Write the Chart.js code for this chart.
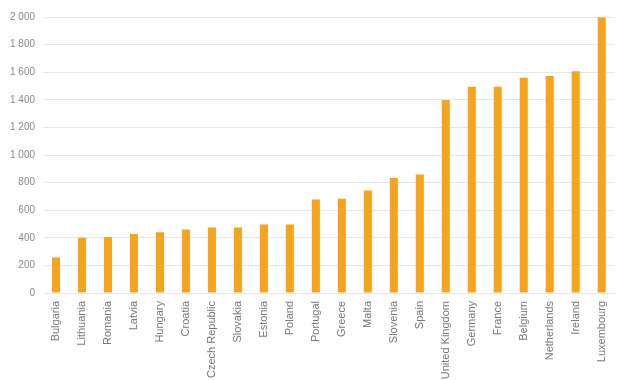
<!DOCTYPE html>
<html>
<head>
<meta charset="utf-8">
<script src="https://cdn.jsdelivr.net/npm/chart.js@4"></script>
<style>
  html, body { margin: 0; padding: 0; background: #fff; }
  #wrap { width: 623px; height: 380px; }
</style>
</head>
<body>
<div id="wrap"><canvas id="wageChart"></canvas></div>
<script>
const countries = [
    "Bulgaria", "Lithuania", "Romania", "Latvia", "Hungary", "Croatia",
    "Czech Republic", "Slovakia", "Estonia", "Poland", "Portugal", "Greece",
    "Malta", "Slovenia", "Spain", "United Kingdom", "Germany", "France",
    "Belgium", "Netherlands", "Ireland", "Luxembourg"
];
const values = [
    258, 400, 405, 427, 441, 460, 474, 474, 496, 496, 677, 683,
    742, 834, 858, 1398, 1494, 1494, 1559, 1573, 1607, 1996
];
const yTicks = [0, 200, 400, 600, 800, 1000, 1200, 1400, 1600, 1800, 2000];

// "2 000" style labels
const fmt = (v) => {
    const s = String(v);
    return s.length > 3 ? s.slice(0, -3) + " " + s.slice(-3) : s;
};

const ctx = document.getElementById("wageChart").getContext("2d");

new Chart(ctx, {
    type: "bar",
    data: {
        labels: countries,
        datasets: [{
            data: values,
            backgroundColor: "#f5a41f",
            borderWidth: 0,
            barPercentage: 0.62,
            categoryPercentage: 0.5,
        }],
    },
    options: {
        responsive: true,
        maintainAspectRatio: false,
        animation: false,
        layout: { padding: { top: 17, right: 5, left: 0, bottom: 0 } },
        plugins: {
            legend: { display: false },
            tooltip: { enabled: false },
        },
        scales: {
            x: {
                grid: { display: false, drawTicks: false },
                border: { display: true, color: "#e6e6e6", width: 1 },
                ticks: {
                    minRotation: 90,
                    maxRotation: 90,
                    autoSkip: false,
                    padding: 8,
                    color: "#777",
                    font: { family: "Liberation Sans", size: 11 },
                },
                afterFit: (s) => { s.height = 87; },
            },
            y: {
                min: 0,
                max: 2000,
                afterBuildTicks: (s) => { s.ticks = yTicks.map((v) => ({ value: v })); },
                grid: { color: "#e6e6e6", drawTicks: false },
                border: { display: false },
                ticks: {
                    padding: 8,
                    color: "#888",
                    font: { family: "Liberation Sans", size: 10 },
                    callback: (v) => fmt(v),
                },
                afterFit: (s) => { s.width = 43; },
            },
        },
    },
});
</script>
</body>
</html>
